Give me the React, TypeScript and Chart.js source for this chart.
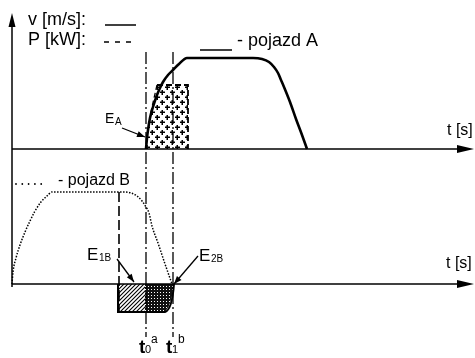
import { useEffect, useRef } from "react";
import { Chart, registerables } from "chart.js";

Chart.register(...registerables);

// Diagram units (t horizontal, value vertical, vertical axis reversed)
const vehicleA_t = [146, 147, 148, 150, 153, 157, 160, 163, 168, 173, 179, 187, 253, 262, 269, 274, 278, 281, 284, 290, 296, 302, 307];
const vehicleA_v = [149, 138, 130, 118, 107, 95, 88, 82, 75, 70, 64, 58, 58, 59, 62, 67, 73, 80, 87, 102, 119, 135, 149];

const vehicleB_t = [12, 13, 16, 20, 25, 30, 35, 41, 47, 52, 125, 131, 137, 142, 146, 149, 152, 158, 164, 172];
const vehicleB_v = [284, 272, 258, 245, 232, 221, 211, 202, 196, 192, 192, 193, 196, 201, 207, 213, 226, 243, 261, 284];

const powerA_t = [157, 188, 188, 147, 148, 152];
const powerA_p = [85, 85, 149, 149, 130, 110];

const brakeB1_t = [118, 145, 145, 118];
const brakeB1_p = [284, 284, 312, 312];

const brakeB2_t = [145, 174, 172, 169, 165, 145];
const brakeB2_p = [284, 284, 296, 306, 312, 312];

const t0 = 146;
const t1 = 173;
const tStartB = 119;

const FONT = '"Liberation Sans", Arial, sans-serif';

const pts = (xs: number[], ys: number[]) => xs.map((x, i) => ({ x, y: ys[i] }));

export default function App() {
  const ref = useRef<HTMLCanvasElement>(null);

  useEffect(() => {
    const mk = (w: number, h: number, draw: (c: CanvasRenderingContext2D) => void) => {
      const cv = document.createElement("canvas");
      cv.width = w;
      cv.height = h;
      const c = cv.getContext("2d")!;
      draw(c);
      return c.createPattern(cv, "repeat")!;
    };

    const overlay = {
      id: "overlay",
      beforeDatasetsDraw(chart: any) {
        const { ctx } = chart;
        const X = (v: number) => chart.scales.x.getPixelForValue(v);
        const Y = (v: number) => chart.scales.y.getPixelForValue(v);
        const poly = (xs: number[], ys: number[]) => {
          ctx.beginPath();
          xs.forEach((x, i) => (i ? ctx.lineTo(X(x), Y(ys[i])) : ctx.moveTo(X(x), Y(ys[i]))));
          ctx.closePath();
        };
        const plus = mk(10, 10, (c) => {
          c.fillStyle = "#fff";
          c.fillRect(0, 0, 10, 10);
          c.fillStyle = "#000";
          for (const [cx, cy] of [[2, 2], [7, 7]]) {
            c.fillRect(cx - 2, cy - 0.5, 5, 1.5);
            c.fillRect(cx - 0.5, cy - 2, 1.5, 5);
          }
        });
        const hatch = mk(4, 4, (c) => {
          c.fillStyle = "#fff";
          c.fillRect(0, 0, 4, 4);
          c.strokeStyle = "#000";
          c.lineWidth = 1.1;
          c.beginPath();
          c.moveTo(-1, 5);
          c.lineTo(5, -1);
          c.moveTo(-1, 1);
          c.lineTo(1, -1);
          c.moveTo(3, 5);
          c.lineTo(5, 3);
          c.stroke();
        });
        const dense = mk(3, 3, (c) => {
          c.fillStyle = "#111";
          c.fillRect(0, 0, 3, 3);
          c.fillStyle = "#fff";
          c.fillRect(1, 1, 1, 1);
        });
        ctx.save();
        poly(powerA_t, powerA_p);
        ctx.fillStyle = plus;
        ctx.fill();
        poly(brakeB1_t, brakeB1_p);
        ctx.fillStyle = hatch;
        ctx.fill();
        poly(brakeB2_t, brakeB2_p);
        ctx.fillStyle = dense;
        ctx.fill();
        ctx.restore();
      },
      afterDatasetsDraw(chart: any) {
        const { ctx } = chart;
        const X = (v: number) => chart.scales.x.getPixelForValue(v);
        const Y = (v: number) => chart.scales.y.getPixelForValue(v);
        ctx.save();
        ctx.fillStyle = "#000";
        ctx.strokeStyle = "#000";
        const tri = (ax: number, ay: number, bx: number, by: number, cx: number, cy: number) => {
          ctx.beginPath();
          ctx.moveTo(X(ax), Y(ay));
          ctx.lineTo(X(bx), Y(by));
          ctx.lineTo(X(cx), Y(cy));
          ctx.closePath();
          ctx.fill();
        };
        // axis arrows
        tri(12, 13, 8.5, 27, 15.5, 27);
        tri(474, 149, 457, 145, 457, 153);
        tri(474, 284, 457, 280, 457, 288);
        // label arrows
        const arrow = (x1: number, y1: number, x2: number, y2: number) => {
          ctx.lineWidth = 1.3;
          ctx.beginPath();
          ctx.moveTo(X(x1), Y(y1));
          ctx.lineTo(X(x2), Y(y2));
          ctx.stroke();
          const a = Math.atan2(Y(y2) - Y(y1), X(x2) - X(x1));
          const L = 8, W = 3;
          ctx.beginPath();
          ctx.moveTo(X(x2), Y(y2));
          ctx.lineTo(X(x2) - L * Math.cos(a) + W * Math.sin(a), Y(y2) - L * Math.sin(a) - W * Math.cos(a));
          ctx.lineTo(X(x2) - L * Math.cos(a) - W * Math.sin(a), Y(y2) - L * Math.sin(a) + W * Math.cos(a));
          ctx.closePath();
          ctx.fill();
        };
        arrow(122, 128, 145, 137);
        arrow(117, 259, 134, 282);
        arrow(198, 256, 174, 284);

        // lower box outline
        ctx.lineWidth = 2;
        ctx.beginPath();
        ctx.moveTo(X(118), Y(284));
        ctx.lineTo(X(118), Y(312));
        ctx.lineTo(X(165), Y(312));
        ctx.quadraticCurveTo(X(172), Y(310), X(174), Y(284));
        ctx.stroke();

        // texts
        const txt = (s: string, x: number, y: number, size: number, weight = "normal") => {
          ctx.font = `${weight} ${size}px ${FONT}`;
          ctx.textBaseline = "alphabetic";
          ctx.fillText(s, X(x), Y(y));
        };
        txt("v [m/s]:", 28, 25, 18);
        txt("P [kW]:", 28, 45, 18);
        txt("- pojazd A", 237, 46, 18);
        txt("- pojazd B", 58, 185, 16);
        txt("t [s]", 447, 135, 16);
        txt("t [s]", 446, 268, 16);
        txt("E", 105, 123, 14);
        txt("A", 115, 125, 10);
        txt("E", 87, 260, 17);
        txt("1B", 99, 261, 10);
        txt("E", 199, 261, 17);
        txt("2B", 211, 262, 10);
        txt("t", 139, 353, 19, "bold");
        txt("0", 145, 353, 11);
        txt("a", 151, 343, 12);
        txt("t", 166, 353, 19, "bold");
        txt("1", 172, 353, 11);
        txt("b", 178, 343, 12);
        // dots before "pojazd B"
        for (let i = 0; i < 5; i++) {
          ctx.beginPath();
          ctx.arc(X(16 + i * 6.3), Y(184), 0.9, 0, Math.PI * 2);
          ctx.fill();
        }
        ctx.restore();
      },
    };

    const line = (data: any[], extra: any = {}) => ({
      data,
      showLine: true,
      pointRadius: 0,
      borderColor: "#000",
      borderWidth: 1.5,
      fill: false,
      clip: false,
      tension: 0,
      ...extra,
    });

    const chart = new Chart(ref.current!, {
      type: "scatter",
      data: {
        datasets: [
          line(pts([12, 466], [149, 149])),
          line(pts([12, 466], [284, 284])),
          line(pts([12, 12], [287, 22])),
          line(pts([t0, t0], [52, 337]), { borderWidth: 1.3, borderDash: [12, 3, 2, 3] }),
          line(pts([t1, t1], [52, 337]), { borderWidth: 1.3, borderDash: [12, 3, 2, 3] }),
          line(pts([tStartB, tStartB], [192, 312]), { borderWidth: 1.6, borderDash: [10, 4] }),
          line(pts([157, 188, 188], [85, 85, 149]), { borderWidth: 1.8, borderDash: [6, 3] }),
          line(pts([157, 150], [85, 116]), { borderWidth: 1.3, borderDash: [5, 3] }),
          line(pts([105, 136], [25, 25])),
          line(pts([104, 134], [42, 42]), { borderDash: [5, 6] }),
          line(pts([200, 232], [50, 50])),
          line(pts(vehicleA_t, vehicleA_v), { borderWidth: 2.6, cubicInterpolationMode: "monotone" }),
          line(pts(vehicleB_t, vehicleB_v), { borderWidth: 1.5, borderDash: [1.5, 1.5], cubicInterpolationMode: "monotone" }),
        ],
      },
      options: {
        animation: false,
        responsive: true,
        maintainAspectRatio: false,
        layout: { padding: 0 },
        plugins: { legend: { display: false }, tooltip: { enabled: false } },
        scales: {
          x: { type: "linear", min: 0, max: 475, display: false },
          y: { type: "linear", min: 0, max: 358, reverse: true, display: false },
        },
      },
      plugins: [overlay],
    });
    return () => chart.destroy();
  }, []);

  return (
    <div style={{ position: "fixed", left: 0, top: 0, width: 475, height: 358, background: "#fff" }}>
      <canvas ref={ref} />
    </div>
  );
}
